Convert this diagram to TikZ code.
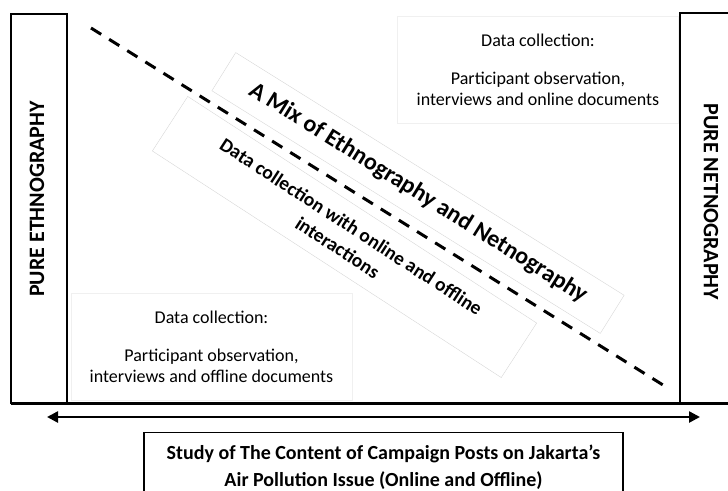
\documentclass[tikz,border=0pt]{standalone}
\usepackage{fontspec}
\setmainfont{Carlito}
\usetikzlibrary{arrows.meta,positioning,calc}

\tikzset{
  sidebox/.style={draw,line width=2.5pt},
  sidelabel/.style={font=\bfseries\fontsize{22}{26}\selectfont},
  dcolbox/.style={draw=black!6,line width=0.6pt,align=center,minimum width=281pt,minimum height=107pt,
    font=\fontsize{18}{21}\selectfont},
  tiltbox/.style={draw=black!16,line width=0.4pt,align=center,inner sep=0pt},
  dashline/.style={line width=3pt,dash pattern=on 12pt off 9.35pt},
}

\begin{document}
\begin{tikzpicture}[x=1pt,y=-1pt]
  \useasboundingbox (0,0) rectangle (728,490);

  % the two ends of the scale
  \draw[sidebox] (11,14) rectangle (67,403);
  \node[sidelabel,rotate=90] (ethno) at (37,199) {PURE ETHNOGRAPHY};
  \draw[sidebox] (680,13) rectangle (740,403);
  \node[sidelabel,rotate=-90] (netno) at (711,202) {PURE NETNOGRAPHY};
  \draw[line width=3pt] (11,403) -- (728,403);

  % data collection on each side
  \node[dcolbox] (dcolnet) at (538,69.5) {Data collection:\\[17pt]Participant observation,\\interviews and online documents};
  \node[dcolbox] (dcoleth) at (211.5,346.5) {Data collection:\\[17pt]Participant observation,\\interviews and offline documents};

  % the mix in between
  \coordinate (dashtop) at (91,28);
  \coordinate (dashbot) at (663,385);
  \draw[dashline] (dashtop) -- (dashbot);

  \node[tiltbox,rotate=-32,minimum width=458pt,minimum height=45pt,
    font=\bfseries\fontsize{24}{28}\selectfont] (mix) at (418,193) {A Mix of Ethnography and Netnography};
  \node[tiltbox,rotate=-33,minimum width=416pt,minimum height=65pt,
    font=\bfseries\fontsize{19.5}{25}\selectfont] (mixdata) at (344.5,237) {Data collection with online and offline\\interactions};

  % axis and the study
  \coordinate (arrl) at (47,417);
  \coordinate (arrr) at (700,417);
  \draw[line width=2.5pt,{Triangle[length=11pt,width=11pt]}-{Triangle[length=11pt,width=11pt]}] (arrl) -- (arrr);

  \node[draw,line width=1.2pt,anchor=north,minimum width=479pt,inner ysep=12pt,
    align=center,font=\bfseries\fontsize{20}{27}\selectfont,text depth=40pt] (study) at (383.5,432)
    {Study of The Content of Campaign Posts on Jakarta's\\Air Pollution Issue (Online and Offline)};
\end{tikzpicture}
\end{document}
